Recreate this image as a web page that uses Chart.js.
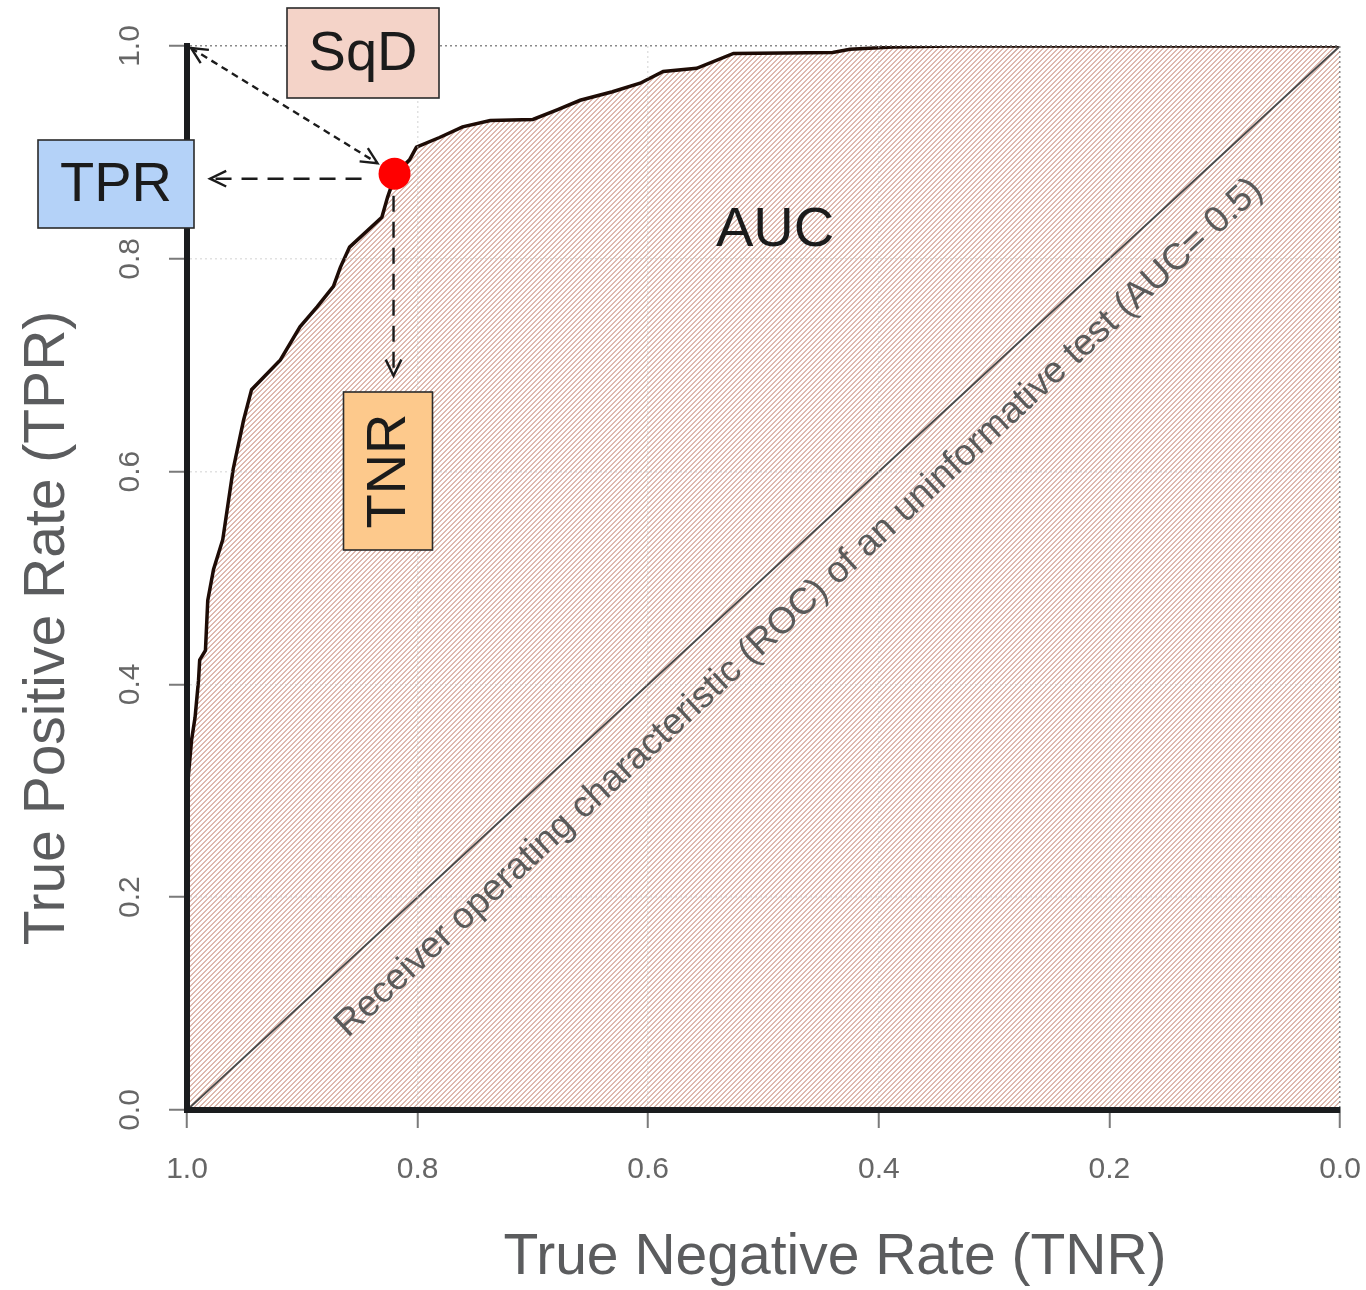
<!DOCTYPE html>
<html>
<head>
<meta charset="utf-8">
<script src="https://cdn.jsdelivr.net/npm/chart.js@4/dist/chart.umd.min.js"></script>
<style>
  html, body { margin: 0; padding: 0; background: #ffffff; }
  #wrap { width: 1366px; height: 1290px; }
</style>
</head>
<body>
<div id="wrap"><canvas id="roc" width="1366" height="1290"></canvas></div>
<script>
////////////////////////////// dades de la corba ROC //////////////////////////////
const tnr = [1.0, 0.996, 0.993, 0.990, 0.989, 0.984, 0.982, 0.977, 0.969, 0.960, 0.951, 0.944,
  0.919, 0.902, 0.887, 0.873, 0.867, 0.859, 0.831, 0.826, 0.819, 0.807, 0.801, 0.781, 0.761,
  0.737, 0.700, 0.679, 0.659, 0.631, 0.607, 0.587, 0.558, 0.526, 0.440, 0.425, 0.388, 0.338, 0.0]
const tpr = [0.30, 0.348, 0.369, 0.404, 0.423, 0.432, 0.479, 0.508, 0.536, 0.602, 0.648, 0.677,
  0.705, 0.736, 0.755, 0.774, 0.792, 0.811, 0.839, 0.858, 0.880, 0.893, 0.905, 0.914, 0.924,
  0.930, 0.931, 0.940, 0.949, 0.957, 0.965, 0.976, 0.979, 0.993, 0.994, 0.997, 0.999, 1.0, 1.0]

// test no informatiu (diagonal)
const diagTnr = [1.0, 0.0]
const diagTpr = [0.0, 1.0]

// punt de tall optim
const cutTnr = [0.82]
const cutTpr = [0.88]

const tickValues = [0, 0.2, 0.4, 0.6, 0.8, 1.0]
const diagText = 'Receiver operating characteristic (ROC) of an uninformative test (AUC= 0.5)'
////////////////////////////////////////////////////////////////////////////////

function toPoints(xs, ys) {
  return xs.map((x, i) => ({ x: x, y: ys[i] }))
}

////////////////////////////// patro ratllat //////////////////////////////////
// ratlles "/" de 2px cada 5px, sense antialiasing
function hatch() {
  let c = document.createElement('canvas')
  c.width = 5
  c.height = 5
  let g = c.getContext('2d')
  g.fillStyle = '#ffffff'
  g.fillRect(0, 0, 5, 5)
  g.fillStyle = 'rgb(222,186,176)'
  for (let i = 0; i < 5; i++) {
    for (let j = 0; j < 5; j++) {
      if ((i + j) % 5 < 2) g.fillRect(i, j, 1, 1)
    }
  }
  return g.createPattern(c, 'repeat')
}
////////////////////////////////////////////////////////////////////////////////

//////////////////////// fletxes i etiquetes ///////////////////////////////////
function arrowHead(ctx, x1, y1, x2, y2, size) {
  let a = Math.atan2(y2 - y1, x2 - x1)
  ctx.setLineDash([])
  ctx.beginPath()
  ctx.moveTo(x2 - size * Math.cos(a - 0.45), y2 - size * Math.sin(a - 0.45))
  ctx.lineTo(x2, y2)
  ctx.lineTo(x2 - size * Math.cos(a + 0.45), y2 - size * Math.sin(a + 0.45))
  ctx.stroke()
}

function dashed(ctx, x1, y1, x2, y2, dash) {
  ctx.setLineDash(dash)
  ctx.beginPath()
  ctx.moveTo(x1, y1)
  ctx.lineTo(x2, y2)
  ctx.stroke()
}

function box(ctx, cx, cy, w, h, fill, text, rot) {
  ctx.save()
  ctx.fillStyle = fill
  ctx.strokeStyle = '#2a2a2a'
  ctx.lineWidth = 1.6
  ctx.setLineDash([])
  ctx.fillRect(cx - w / 2, cy - h / 2, w, h)
  ctx.strokeRect(cx - w / 2, cy - h / 2, w, h)
  ctx.translate(cx, cy)
  if (rot) ctx.rotate(-Math.PI / 2)
  ctx.fillStyle = '#1b1b1b'
  ctx.font = '56px "Liberation Sans", Arial, sans-serif'
  ctx.textAlign = 'center'
  ctx.textBaseline = 'middle'
  ctx.fillText(text, 0, 2)
  ctx.restore()
}

const annotations = {
  id: 'annotations',
  afterDraw(chart) {
    const ctx = chart.ctx
    const xs = chart.scales.x
    const ys = chart.scales.y
    const px = v => xs.getPixelForValue(v)
    const py = v => ys.getPixelForValue(v)

    // etiquetes eix y (girades)
    ctx.save()
    ctx.fillStyle = '#666666'
    ctx.font = '30px "Liberation Sans", Arial, sans-serif'
    ctx.textAlign = 'center'
    ctx.textBaseline = 'middle'
    ys.ticks.forEach(t => {
      ctx.save()
      ctx.translate(131, py(t.value))
      ctx.rotate(-Math.PI / 2)
      ctx.fillText(t.value.toFixed(1), 0, 0)
      ctx.restore()
    })
    ctx.restore()

    // titols dels eixos
    ctx.save()
    ctx.fillStyle = '#5b5c5e'
    ctx.font = '57px "Liberation Sans", Arial, sans-serif'
    ctx.textAlign = 'center'
    ctx.textBaseline = 'middle'
    ctx.fillText('True Negative Rate (TNR)', 835, 1258)
    ctx.translate(48, 628)
    ctx.rotate(-Math.PI / 2)
    ctx.fillText('True Positive Rate (TPR)', 0, 0)
    ctx.restore()

    // text de la diagonal
    let x0 = px(diagTnr[0]), y0 = py(diagTpr[0])
    let x1 = px(diagTnr[1]), y1 = py(diagTpr[1])
    let ang = Math.atan2(y1 - y0, x1 - x0)
    let mx = (x0 + x1) / 2, my = (y0 + y1) / 2
    let off = 46
    ctx.save()
    ctx.translate(mx - off * Math.sin(ang) + 6 * Math.cos(ang), my + off * Math.cos(ang) + 6 * Math.sin(ang))
    ctx.rotate(ang)
    ctx.fillStyle = '#5a5a5a'
    ctx.font = '37px "Liberation Sans", Arial, sans-serif'
    ctx.textAlign = 'center'
    ctx.textBaseline = 'middle'
    ctx.fillText(diagText, 0, 0)
    ctx.restore()

    // AUC
    ctx.save()
    ctx.fillStyle = '#1b1b1b'
    ctx.font = '56px "Liberation Sans", Arial, sans-serif'
    ctx.textAlign = 'center'
    ctx.textBaseline = 'middle'
    ctx.fillText('AUC', px(0.49), py(0.827))
    ctx.restore()

    // fletxes discontinues
    let dx = px(cutTnr[0]), dy = py(cutTpr[0])
    let cx = px(1.0), cy = py(1.0)
    ctx.save()
    ctx.strokeStyle = '#1b1b1b'
    ctx.lineWidth = 2.4
    let ux = dx - cx, uy = dy - cy
    let len = Math.sqrt(ux * ux + uy * uy)
    let ex = dx - ux / len * 20, ey = dy - uy / len * 20
    dashed(ctx, cx + 4, cy + 2, ex, ey, [7, 5])
    arrowHead(ctx, ex, ey, cx + 4, cy + 2, 18)
    arrowHead(ctx, cx + 4, cy + 2, ex, ey, 18)

    dashed(ctx, dx - 33, dy + 5, px(1.0) + 23, dy + 5, [16, 10])
    arrowHead(ctx, dx - 33, dy + 5, px(1.0) + 23, dy + 5, 18)

    dashed(ctx, dx - 1, dy + 22, dx - 1, py(0.69), [16, 10])
    arrowHead(ctx, dx - 1, dy + 22, dx - 1, py(0.69), 18)
    ctx.restore()

    // caixes
    box(ctx, 363, 53, 152, 90, '#f4d3c8', 'SqD', false)
    box(ctx, 116, 184, 156, 88, '#b4d2f8', 'TPR', false)
    box(ctx, 388, 471, 89, 158, '#fdc98c', 'TNR', true)
  }
}
////////////////////////////////////////////////////////////////////////////////

//////////////////////////////// grafica ///////////////////////////////////////
const ctxRoc = document.getElementById('roc').getContext('2d')

function gridColor(c) {
  if (c.tick && (c.tick.value === 1 && c.scale.axis === 'y')) return '#8a8a8a'
  if (c.tick && (c.tick.value === 0 && c.scale.axis === 'x')) return '#8a8a8a'
  return 'rgba(200,200,200,0.55)'
}

var rocChart = new Chart(ctxRoc, {
  type: 'scatter',
  data: {
    datasets: [{
        label: 'ROC',
        data: toPoints(tnr, tpr),
        showLine: true,
        borderColor: '#1e0c06',
        borderWidth: 3.5,
        backgroundColor: hatch(),
        fill: 'origin',
        pointRadius: 0,
        tension: 0,
        order: 3
      },
      {
        label: 'Uninformative',
        data: toPoints(diagTnr, diagTpr),
        showLine: true,
        borderColor: '#4a4a4a',
        borderWidth: 2,
        fill: false,
        pointRadius: 0,
        order: 2
      },
      {
        label: 'Cut-off',
        data: toPoints(cutTnr, cutTpr),
        pointRadius: 16,
        pointHoverRadius: 16,
        backgroundColor: '#ff0000',
        borderWidth: 0,
        order: 1
      }
    ]
  },
  options: {
    responsive: false,
    animation: false,
    events: [],
    layout: {
      padding: { top: 46, right: 26, left: 0, bottom: 0 }
    },
    plugins: {
      legend: { display: false },
      tooltip: { enabled: false }
    },
    scales: {
      x: {
        type: 'linear',
        reverse: true,
        min: 0,
        max: 1,
        afterFit: s => { s.height = 180 },
        afterBuildTicks: s => { s.ticks = tickValues.map(v => ({ value: v })) },
        ticks: {
          color: '#666666',
          padding: 24,
          font: { family: '"Liberation Sans", Arial, sans-serif', size: 30 },
          callback: v => Number(v).toFixed(1)
        },
        grid: {
          z: 1,
          color: gridColor,
          lineWidth: 1.5,
          tickLength: 18,
          tickColor: '#7a7a7a',
          tickWidth: 2
        },
        border: { display: true, z: 2, color: '#1a1c1e', width: 6, dash: [2, 3] }
      },
      y: {
        type: 'linear',
        min: 0,
        max: 1,
        afterFit: s => { s.width = 187 },
        afterBuildTicks: s => { s.ticks = tickValues.map(v => ({ value: v })) },
        ticks: {
          color: 'rgba(0,0,0,0)',
          font: { size: 30 },
          callback: v => Number(v).toFixed(1)
        },
        grid: {
          z: 1,
          color: gridColor,
          lineWidth: 1.5,
          tickLength: 18,
          tickColor: '#7a7a7a',
          tickWidth: 2
        },
        border: { display: true, z: 2, color: '#1a1c1e', width: 6, dash: [2, 3] }
      }
    }
  },
  plugins: [annotations]
});
////////////////////////////////////////////////////////////////////////////////
</script>
</body>
</html>
